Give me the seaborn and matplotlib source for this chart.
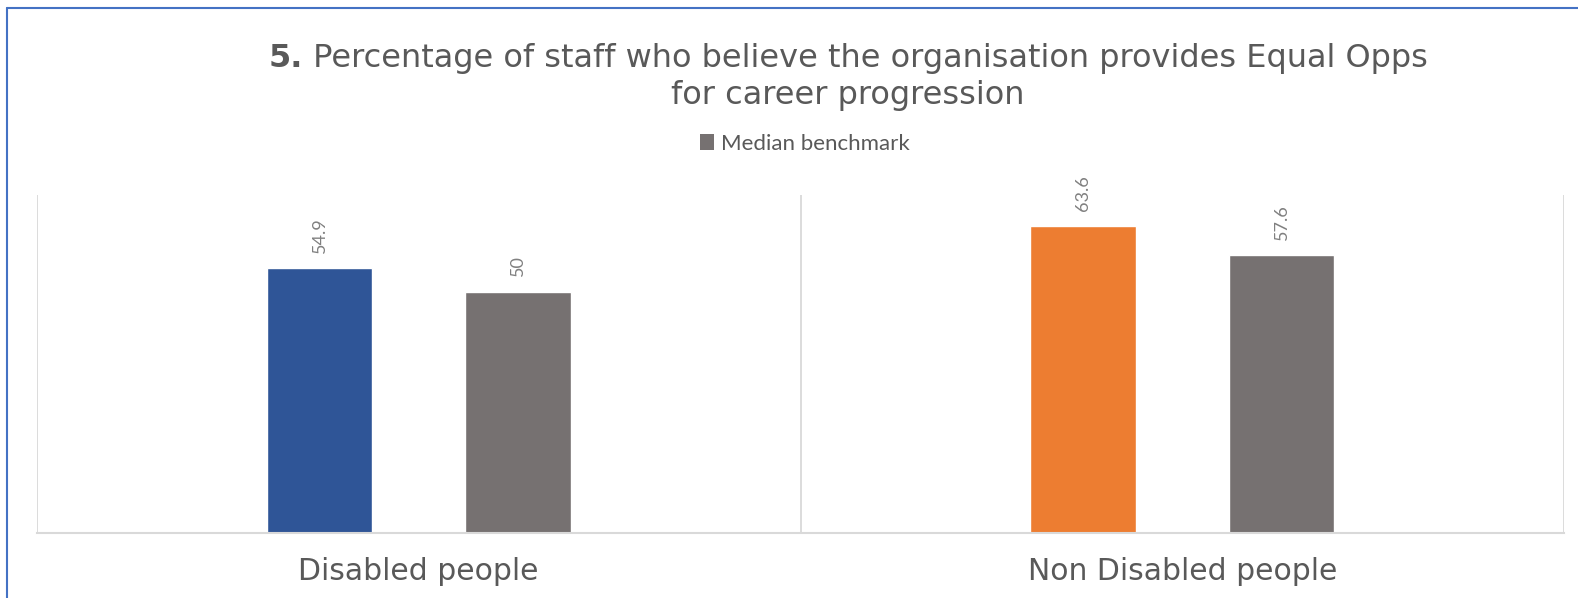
import matplotlib
matplotlib.use("Agg")
import matplotlib.pyplot as plt
import seaborn as sns
import pandas as pd
from matplotlib.lines import Line2D
from matplotlib.patches import Patch

# ---- data ----
categories = ["Disabled people", "Non Disabled people"]
series = ["Organisation", "Median benchmark"]
org_values = [54.9, 63.6]
benchmark_values = [50, 57.6]
org_colors = ["#2F5597", "#ED7D31"]
benchmark_color = "#767171"
title_bold = "5."
title_rest = "Percentage of staff who believe the organisation provides Equal Opps"
title_line2 = "for career progression"
legend_label = "Median benchmark"

df = pd.DataFrame({
    "category": categories * 2,
    "series": [series[0]] * len(categories) + [series[1]] * len(categories),
    "value": org_values + benchmark_values,
})

sns.set_theme(style="white")
plt.rcParams["font.family"] = ["DejaVu Sans"]

W, H = 1578, 598
fig = plt.figure(figsize=(W / 100, H / 100), dpi=100)
fig.patch.set_facecolor("white")

ax_left, ax_right, ax_bottom, ax_top = 37, 1564, 533, 195
ax = fig.add_axes([ax_left / W, 1 - ax_bottom / H, (ax_right - ax_left) / W, (ax_bottom - ax_top) / H])

sns.barplot(data=df, x="category", y="value", hue="series", order=categories,
            hue_order=series, palette=[org_colors[0], benchmark_color],
            width=0.52, gap=0.47, saturation=1, legend=False, ax=ax)

# recolour organisation bars per category
for i, patch in enumerate(ax.containers[0]):
    patch.set_facecolor(org_colors[i])

for cont in ax.containers:
    vals = [p.get_height() for p in cont]
    ax.bar_label(cont, labels=[f"{v:g}" for v in vals], rotation=90, padding=11,
                 color="#808080", fontsize=13, family="Lato")

ax.set_ylim(0, 70)
ax.set_xlim(-0.5, len(categories) - 0.5)
ax.set_xlabel("")
ax.set_ylabel("")
ax.set_yticks([])
ax.set_xticks([-0.5 + i for i in range(len(categories) + 1)], minor=True)
ax.grid(which="minor", axis="x", color="#d9d9d9", linewidth=1.3)
ax.tick_params(axis="x", which="both", length=0, pad=17)
for lbl in ax.get_xticklabels():
    lbl.set_fontsize(21.5)
    lbl.set_color("#595959")
for s in ["top", "left", "right"]:
    ax.spines[s].set_visible(False)
ax.spines["bottom"].set_color("#d9d9d9")
ax.spines["bottom"].set_linewidth(1.5)

# legend
fig.legend(handles=[Patch(facecolor=benchmark_color, edgecolor="none")], labels=[legend_label],
           loc="center", bbox_to_anchor=(805 / W, 1 - 144 / H), frameon=False,
           handlelength=0.62, handleheight=0.75, handletextpad=0.3,
           prop={"family": "Lato", "size": 16}, labelcolor="#595959")

# title (bold number + regular text)
cx = 848 / W
y1 = 1 - 67 / H
y2 = 1 - 104 / H
fs_title = 23
t_rest = fig.text(0, y1, " " + title_rest, fontsize=fs_title, color="#595959", ha="left", va="baseline")
t_bold = fig.text(0, y1, title_bold, fontsize=fs_title, color="#595959", fontweight="bold", ha="left", va="baseline")
fig.canvas.draw()
r = fig.canvas.get_renderer()
wb = t_bold.get_window_extent(r).width / W
wr = t_rest.get_window_extent(r).width / W
x0 = cx - (wb + wr) / 2
t_bold.set_x(x0)
t_rest.set_x(x0 + wb)
fig.text(cx, y2, title_line2, fontsize=fs_title, color="#595959", ha="center", va="baseline")

# chart frame (blue border on left and top)
fig.add_artist(Line2D([7 / W, 7 / W], [0, 1 - 8 / H], color="#4472C4", lw=1.5, transform=fig.transFigure))
fig.add_artist(Line2D([7 / W, 1], [1 - 8 / H, 1 - 8 / H], color="#4472C4", lw=1.5, transform=fig.transFigure))

fig.savefig("out.png", dpi=100, facecolor="white")
